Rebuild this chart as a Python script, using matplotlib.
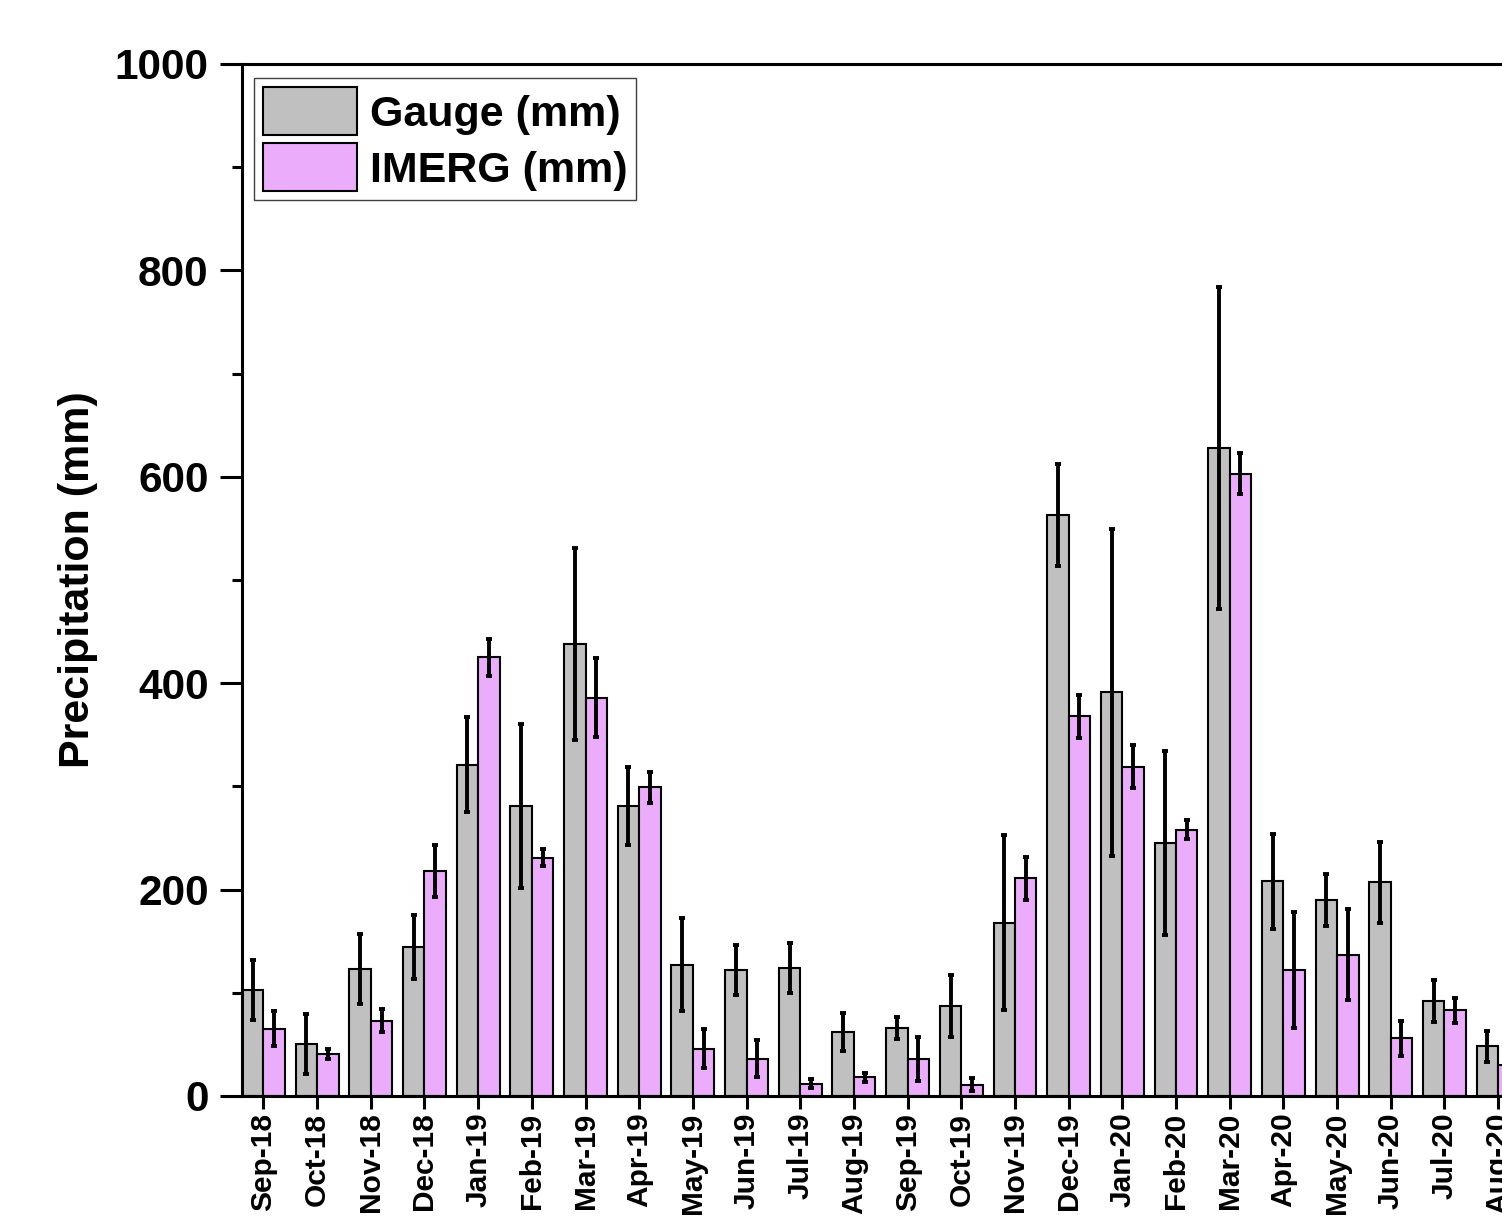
import numpy as np
import matplotlib.pyplot as plt

plt.rcParams['font.family'] = ['Liberation Sans', 'DejaVu Sans']
plt.rcParams['font.weight'] = 'bold'

months = ['Sep-18', 'Oct-18', 'Nov-18', 'Dec-18', 'Jan-19', 'Feb-19', 'Mar-19', 'Apr-19',
          'May-19', 'Jun-19', 'Jul-19', 'Aug-19', 'Sep-19', 'Oct-19', 'Nov-19', 'Dec-19',
          'Jan-20', 'Feb-20', 'Mar-20', 'Apr-20', 'May-20', 'Jun-20', 'Jul-20', 'Aug-20']
gauge = [103, 50, 123, 144, 321, 281, 438, 281, 127, 122, 124, 62,
         66, 87, 168, 563, 391, 245, 628, 208, 190, 207, 92, 48]
gauge_err = [29, 29, 34, 31, 46, 79, 93, 38, 45, 24, 24, 18,
             11, 30, 85, 49, 158, 89, 156, 46, 25, 39, 20, 15]
imerg = [65, 41, 73, 218, 425, 231, 386, 299, 46, 36, 12, 18,
         36, 11, 211, 368, 319, 258, 603, 122, 137, 56, 83, 30]
imerg_err = [17, 5, 11, 25, 18, 8, 38, 15, 19, 18, 4, 4,
             21, 6, 21, 21, 21, 9, 20, 56, 44, 17, 12, 8]

fig = plt.figure(figsize=(15.02, 12.16), dpi=100)
# the right edge of the axes runs past the figure, as in the cropped original
ax = fig.add_axes([0.1611, 0.0987, 0.8506, 0.8487])

ind, width = np.arange(len(months)), 0.4
err_kw = dict(elinewidth=2.8, capsize=2.5, capthick=2.8, ecolor='black')
ax.bar(ind - width / 2, gauge, width, yerr=gauge_err, color='#C0C0C0',
       edgecolor='black', linewidth=1.5, error_kw=err_kw, label='Gauge (mm)')
ax.bar(ind + width / 2, imerg, width, yerr=imerg_err, color='#EBACFB',
       edgecolor='black', linewidth=1.5, error_kw=err_kw, label='IMERG (mm)')

ax.set_xlim(-0.4, len(months) - 0.6)
ax.set_ylim(0, 1000)
ax.set_xticks(ind)
ax.set_xticklabels(months, rotation=90, fontsize=21.5, fontweight='bold')
ax.set_yticks(np.arange(0, 1001, 200))
ax.set_yticks(np.arange(100, 1000, 200), minor=True)
ax.tick_params(axis='y', which='major', labelsize=30.5, length=16, width=2.2, pad=8)
ax.tick_params(axis='y', which='minor', length=7, width=2.2)
ax.tick_params(axis='x', which='major', length=9, width=2.2, pad=3)
for sp in ax.spines.values():
    sp.set_linewidth(2.2)

ax.set_ylabel('Precipitation (mm)', fontsize=31, fontweight='bold')
ax.yaxis.set_label_coords(-0.113, 0.5)

leg = ax.legend(loc='upper left', bbox_to_anchor=(0.0094, 0.986), borderaxespad=0,
                fontsize=31, handlelength=2.2, handleheight=1.35, labelspacing=0.18,
                handletextpad=0.3, borderpad=0.2, fancybox=False, framealpha=1,
                edgecolor='#404040')
leg.get_frame().set_linewidth(1.0)

plt.savefig('out.png', dpi=100)
